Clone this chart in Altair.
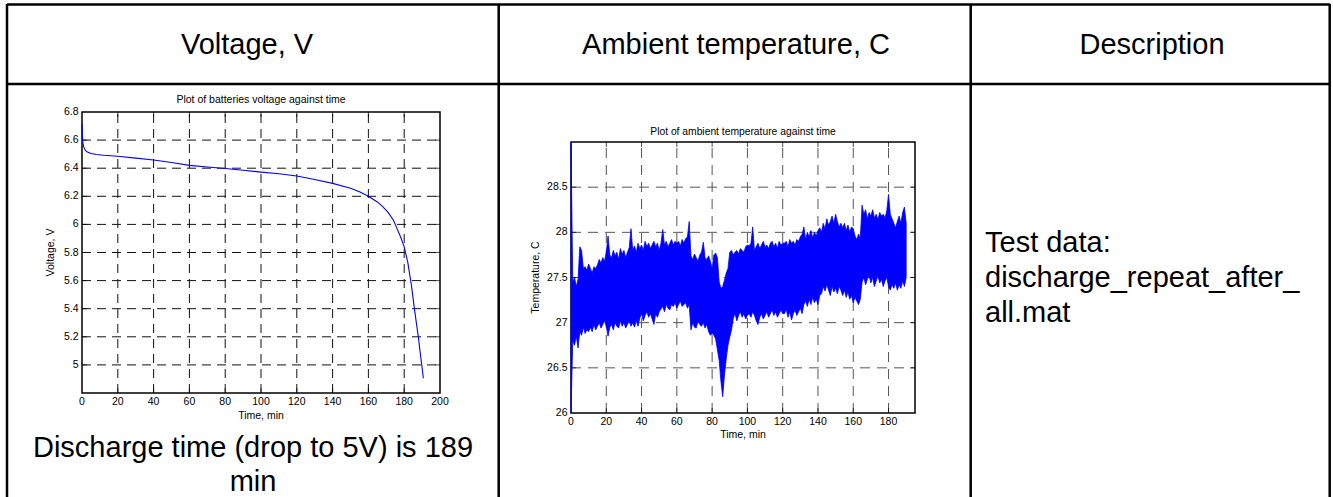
import altair as alt
import pandas as pd

FONT = "Liberation Sans, Arial, sans-serif"

# ---------------- data ----------------
volt_t = [0, 0.2, 0.5, 1, 2, 3, 5, 8, 12, 20, 30, 40, 50, 60, 70, 80, 90, 100,
          110, 120, 130, 140, 150, 155, 160, 165, 168, 171, 174, 176, 178, 180,
          182, 184, 185.5, 187, 188, 189, 190, 190.7]
volt_v = [6.72, 6.64, 6.58, 6.55, 6.525, 6.515, 6.505, 6.498, 6.492, 6.485,
          6.472, 6.458, 6.44, 6.42, 6.408, 6.398, 6.385, 6.372, 6.36, 6.345,
          6.32, 6.292, 6.258, 6.232, 6.2, 6.16, 6.126, 6.085, 6.03, 5.97,
          5.91, 5.84, 5.73, 5.57, 5.42, 5.28, 5.19, 5.08, 4.98, 4.905]

# per-minute upper / lower extremes of the noisy temperature record (t = 0..190)
temp_hi = [
    29.0, 27.45, 27.5, 27.4, 27.48, 27.84, 27.8, 27.6, 27.62, 27.58,
    27.65, 27.6, 27.55, 27.62, 27.6, 27.64, 27.7, 27.66, 27.72, 27.68,
    27.78, 27.96, 27.75, 27.72, 27.8, 27.74, 27.78, 27.7, 27.82, 27.76,
    27.8, 27.72, 27.78, 27.83, 28.04, 27.8, 27.85, 27.78, 27.88, 27.82,
    27.86, 27.8, 27.9, 27.84, 27.88, 27.82, 27.86, 27.9, 27.84, 27.88,
    27.8, 27.88, 28.03, 27.86, 27.9, 27.84, 27.88, 27.92, 27.86, 27.9,
    27.88, 27.9, 27.85, 27.92, 27.88, 27.93, 27.95, 28.12, 27.74, 27.7,
    27.76, 27.72, 27.68, 27.75, 27.78, 27.89, 27.72, 27.7, 27.74, 27.68,
    27.6, 27.75, 27.77, 27.72, 27.45, 27.38, 27.4, 27.47, 27.55, 27.6,
    27.78, 27.8, 27.75, 27.78, 27.8, 27.76, 27.82, 27.8, 27.78, 27.84,
    27.86, 27.85, 27.88, 28.06, 27.8, 27.84, 27.88, 27.82, 27.86, 27.9,
    27.84, 27.86, 27.82, 27.88, 27.9, 27.84, 27.88, 27.82, 27.9, 27.86,
    27.88, 27.88, 27.9, 27.84, 27.92, 27.88, 27.9, 27.86, 27.92, 27.9,
    27.95, 27.98, 28.06, 27.92, 28.0, 27.95, 28.02, 27.94, 28.0, 27.96,
    28.02, 28.05, 28.0, 28.1, 28.04, 28.15, 28.08, 28.12, 28.18, 28.1,
    28.2, 28.12, 28.06, 28.1, 28.05, 28.1, 28.02, 28.08, 28.0, 28.06,
    28.04, 27.96, 27.92, 27.98, 27.94, 28.3, 28.2, 28.25, 28.15, 28.22,
    28.18, 28.25, 28.16, 28.2, 28.14, 28.22, 28.18, 28.2, 28.16, 28.24,
    28.42, 28.2, 28.15, 28.1, 28.05, 28.12, 28.18, 28.1, 28.22, 28.28, 28.1,
]
temp_lo = [
    26.0, 26.8, 26.75, 26.85, 26.72, 26.9, 26.86, 26.95, 26.88, 26.92,
    26.9, 26.95, 26.9, 26.98, 26.92, 26.96, 27.0, 26.94, 26.98, 27.02,
    26.96, 26.85, 26.95, 26.98, 26.92, 27.0, 26.96, 26.94, 27.02, 26.96,
    27.0, 26.94, 26.98, 27.02, 26.96, 27.0, 26.95, 27.02, 26.96, 27.05,
    27.1, 27.02, 27.08, 27.12, 27.06, 27.1, 27.04, 26.98, 27.1, 27.06,
    27.12, 27.15, 27.18, 27.12, 27.2, 27.16, 27.14, 27.2, 27.18, 27.22,
    27.16, 27.2, 27.24, 27.18, 27.2, 27.22, 27.16, 27.2, 26.92, 27.0,
    26.95, 26.94, 27.02, 26.98, 26.96, 27.0, 26.94, 26.98, 26.9, 26.86,
    26.88, 26.86, 26.82, 26.7, 26.58, 26.35, 26.18, 26.42, 26.6, 26.75,
    26.84, 26.92, 27.05, 27.1, 27.02, 27.08, 27.12, 27.06, 27.1, 27.04,
    27.08, 27.1, 27.06, 27.12, 27.08, 27.02, 26.98, 27.06, 27.1, 27.04,
    27.08, 27.12, 27.06, 27.1, 27.14, 27.08, 27.12, 27.06, 27.1, 27.14,
    27.1, 27.1, 27.15, 27.06, 27.12, 27.03, 27.1, 27.14, 27.08, 27.12,
    27.16, 27.1, 27.2, 27.24, 27.18, 27.26, 27.2, 27.28, 27.22, 27.26,
    27.2, 27.3, 27.32, 27.4, 27.35, 27.42, 27.36, 27.3, 27.4, 27.34,
    27.38, 27.32, 27.4, 27.36, 27.3, 27.36, 27.28, 27.34, 27.26, 27.3,
    27.22, 27.28, 27.24, 27.2, 27.26, 27.45, 27.5, 27.42, 27.48, 27.52,
    27.44, 27.5, 27.4, 27.46, 27.52, 27.44, 27.48, 27.4, 27.46, 27.5,
    27.4, 27.36, 27.42, 27.38, 27.44, 27.36, 27.42, 27.38, 27.46, 27.4, 27.5,
]

volt_xticks = [0, 20, 40, 60, 80, 100, 120, 140, 160, 180, 200]
volt_yticks = [5.0, 5.2, 5.4, 5.6, 5.8, 6.0, 6.2, 6.4, 6.6, 6.8]
temp_xticks = [0, 20, 40, 60, 80, 100, 120, 140, 160, 180]
temp_yticks = [26.0, 26.5, 27.0, 27.5, 28.0, 28.5]

headers = ["Voltage, V", "Ambient temperature, C", "Description"]
caption_lines = ["Discharge time (drop to 5V) is 189", "min"]
desc_lines = ["Test data:", "discharge_repeat_after_", "all.mat"]
volt_title = "Plot of batteries voltage against time"
temp_title = "Plot of ambient temperature against time"
volt_xlabel, volt_ylabel = "Time, min", "Voltage, V"
temp_xlabel, temp_ylabel = "Time, min", "Temperature, C"

W, H = 1333, 497
one = pd.DataFrame({"k": [0]})


def txt(s, x, y, size, align="center", angle=0, baseline="alphabetic"):
    return alt.Chart(pd.DataFrame({"s": [s]})).mark_text(
        font=FONT, fontSize=size, align=align, baseline=baseline,
        angle=angle, color="black"
    ).encode(x=alt.value(x), y=alt.value(y), text="s:N")


def rule(x1, y1, x2, y2, w=2.5):
    return alt.Chart(one).mark_rule(color="black", strokeWidth=w).encode(
        x=alt.value(x1), y=alt.value(y1), x2=alt.value(x2), y2=alt.value(y2))


def panel(xs, ys, x_dom, y_dom, xticks, yticks, grid_color, dash, data_layer):
    x0, x1 = x_dom
    y0, y1 = y_dom
    gx = pd.DataFrame({"g": [v for v in xticks if x0 < v < x1]})
    gy = pd.DataFrame({"g": [v for v in yticks if y0 < v < y1]})
    lx = pd.DataFrame({"g": xticks, "s": [f"{v:g}" for v in xticks]})
    ly = pd.DataFrame({"g": yticks, "s": [f"{v:g}" for v in yticks]})
    XD = lambda v: alt.XDatum(v, type="quantitative", scale=xs, axis=None)
    YD = lambda v: alt.YDatum(v, type="quantitative", scale=ys, axis=None)
    XF = alt.X("g:Q", scale=xs, axis=None)
    YF = alt.Y("g:Q", scale=ys, axis=None)
    gridx = alt.Chart(gx).mark_rule(color=grid_color, strokeDash=dash, strokeWidth=1).encode(
        x=XF, y=YD(y0), y2=alt.Y2Datum(y1))
    gridy = alt.Chart(gy).mark_rule(color=grid_color, strokeDash=dash, strokeWidth=1).encode(
        y=YF, x=XD(x0), x2=alt.X2Datum(x1))
    box = alt.Chart(one).mark_rect(fillOpacity=0, stroke="black", strokeWidth=1.5).encode(
        x=XD(x0), x2=alt.X2Datum(x1), y=YD(y0), y2=alt.Y2Datum(y1))
    tk = dict(color="black", thickness=1, size=5)
    t_top = alt.Chart(gx).mark_tick(orient="vertical", yOffset=2.5, **tk).encode(x=XF, y=YD(y1))
    t_bot = alt.Chart(gx).mark_tick(orient="vertical", yOffset=-2.5, **tk).encode(x=XF, y=YD(y0))
    t_left = alt.Chart(gy).mark_tick(orient="horizontal", xOffset=2.5, **tk).encode(y=YF, x=XD(x0))
    t_right = alt.Chart(gy).mark_tick(orient="horizontal", xOffset=-2.5, **tk).encode(y=YF, x=XD(x1))
    lab_x = alt.Chart(lx).mark_text(font=FONT, fontSize=10.5, color="black",
                                    align="center", baseline="top", dy=4).encode(
        x=XF, y=YD(y0), text="s:N")
    lab_y = alt.Chart(ly).mark_text(font=FONT, fontSize=10.5, color="black",
                                    align="right", baseline="middle", dx=-3.5).encode(
        y=YF, x=XD(x0), text="s:N")
    return alt.layer(gridx, gridy, box, t_top, t_bot, t_left, t_right, data_layer,
                     lab_x, lab_y)


# ---------------- voltage panel ----------------
vx = alt.Scale(domain=[0, 200], range=[82, 440], nice=False, zero=False)
vy = alt.Scale(domain=[4.8, 6.8], range=[393, 112], nice=False, zero=False)
volt_df = pd.DataFrame({"t": volt_t, "v": volt_v})
volt_line = alt.Chart(volt_df).mark_line(color="#0000ff", strokeWidth=1.1).encode(
    x=alt.X("t:Q", scale=vx, axis=None), y=alt.Y("v:Q", scale=vy, axis=None))
volt_panel = panel(vx, vy, (0, 200), (4.8, 6.8), volt_xticks, volt_yticks,
                   "#111111", [9, 6], volt_line)

# ---------------- temperature panel ----------------
tx = alt.Scale(domain=[0, 195], range=[571, 915], nice=False, zero=False)
ty = alt.Scale(domain=[26, 29], range=[413, 142], nice=False, zero=False)
temp_df = pd.DataFrame({"t": list(range(len(temp_hi))), "hi": temp_hi, "lo": temp_lo})
temp_band = alt.Chart(temp_df).mark_area(color="#0000ff", opacity=1,
                                         stroke="#0000ff", strokeWidth=0.8).encode(
    x=alt.X("t:Q", scale=tx, axis=None),
    y=alt.Y("lo:Q", scale=ty, axis=None),
    y2="hi:Q")
temp_panel = panel(tx, ty, (0, 195), (26, 29), temp_xticks, temp_yticks,
                   "#555555", [10, 7], temp_band)

# ---------------- table frame and texts ----------------
frame = [
    rule(7, 4.5, 1330, 4.5),
    rule(7, 84, 1330, 84),
    rule(7, 4, 7, H),
    rule(498.7, 4, 498.7, H),
    rule(970.7, 4, 970.7, H),
    rule(1329.7, 4, 1329.7, H),
]
texts = [
    txt(headers[0], 247, 54, 29),
    txt(headers[1], 736, 54, 29),
    txt(headers[2], 1152, 54, 29),
    txt(caption_lines[0], 253, 457, 29),
    txt(caption_lines[1], 253, 491, 29),
    txt(desc_lines[0], 985, 252, 29, align="left"),
    txt(desc_lines[1], 985, 287, 29, align="left"),
    txt(desc_lines[2], 985, 322, 29, align="left"),
    txt(volt_title, 261, 103, 10.5),
    txt(volt_xlabel, 261, 419, 10.5),
    txt(volt_ylabel, 51, 252.5, 10.5, angle=270, baseline="middle"),
    txt(temp_title, 743, 134.5, 10.3),
    txt(temp_xlabel, 743, 438, 10.5),
    txt(temp_ylabel, 536, 277.5, 10.5, angle=270, baseline="middle"),
]

chart = alt.layer(*frame, *texts, volt_panel, temp_panel).resolve_scale(
    x="independent", y="independent"
).properties(
    width=W, height=H, padding=0,
    autosize=alt.AutoSizeParams(type="none")
).configure_view(stroke=None)

chart.save("out.html", embed_options={"renderer": "svg", "actions": False})
